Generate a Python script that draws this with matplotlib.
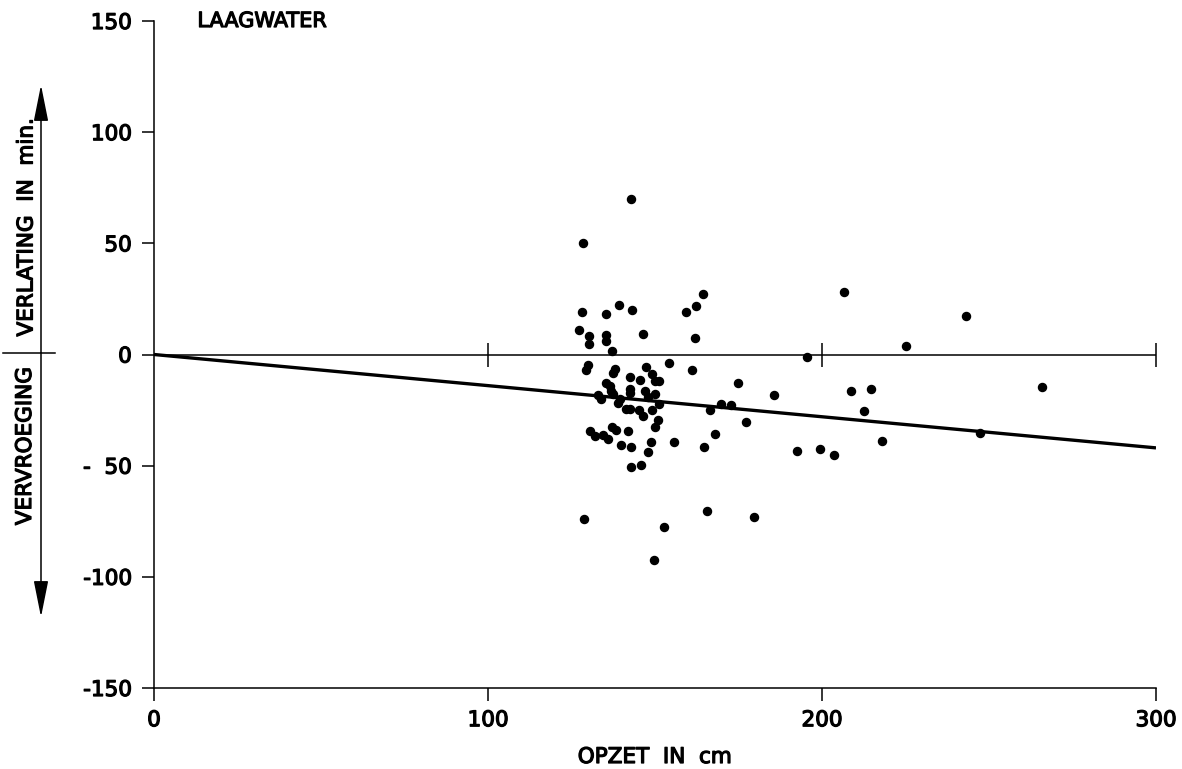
import matplotlib
matplotlib.use("Agg")
import matplotlib.pyplot as plt
import matplotlib.patheffects as pe
from matplotlib.text import Text

plt.rcParams["font.family"] = ["DejaVu Sans"]

# opzet (cm) and verlating/vervroeging (min)
opzet = [142.7, 128.4, 128.2, 135.2, 139.3, 143.1, 127.2, 130.2, 130.3, 135.3, 135.3, 146.3, 137.2, 159.4, 162.4, 164.3, 161.9,
         129.2, 129.9, 137.4, 137.9, 142.4, 147.4, 149.2, 154.1, 161.0, 135.4, 136.4, 145.4, 149.9, 151.3,
         132.9, 133.9, 136.9, 137.4, 139.4, 138.9, 142.4, 142.4, 146.9, 147.9, 149.9, 151.3,
         141.2, 142.4, 145.1, 149.2, 146.3, 150.8, 149.9,
         130.4, 131.9, 134.4, 135.8, 137.2, 138.2, 142.0, 139.9, 142.7, 148.7, 147.8, 155.8, 142.9, 145.9,
         195.6, 174.8, 185.6, 166.6, 169.8, 172.8, 177.3, 168.1, 164.7, 192.5, 199.5,
         206.7, 243.0, 225.2, 208.8, 214.7, 265.9, 212.7, 247.4, 218.1, 203.5,
         128.6, 152.8, 149.6, 165.6, 179.5]
verandering = [70.1, 50.3, 19.2, 18.3, 22.3, 20.1, 11.2, 8.2, 4.5, 8.8, 5.9, 9.2, 1.4, 19.2, 21.9, 27.1, 7.3,
               -6.8, -4.8, -8.2, -6.7, -10.3, -5.8, -8.7, -3.9, -7.0, -12.7, -14.2, -11.5, -11.7, -11.7,
               -18.0, -20.2, -16.4, -17.9, -20.1, -21.6, -15.6, -17.1, -16.3, -19.3, -17.8, -22.3,
               -24.3, -24.3, -24.8, -25.0, -27.8, -29.3, -32.7,
               -34.5, -36.7, -36.0, -38.2, -32.6, -34.1, -34.3, -40.6, -41.5, -39.5, -44.0, -39.4, -50.8, -49.6,
               -1.0, -12.6, -18.4, -25.0, -22.3, -22.7, -30.3, -35.7, -41.6, -43.5, -42.4,
               28.0, 17.2, 4.0, -16.6, -15.6, -14.4, -25.3, -35.2, -39.1, -45.3,
               -74.2, -77.5, -92.5, -70.6, -73.1]

trend_x = [0, 300]
trend_y = [0, -42]

zero_x = [0, 300]
zero_marks = [100, 200, 300]

x_ticks = [0, 100, 200, 300]
x_labels = ["0", "100", "200", "300"]
y_ticks = [150, 100, 50, 0, -50, -100, -150]
y_labels = ["150", "100", "50", "0", "-  50", "-100", "-150"]

W, H = 1182, 769
fig = plt.figure(figsize=(W / 100, H / 100), dpi=100)
ax = fig.add_axes([154 / W, 1 - 688 / H, 1002 / W, 667 / H])

# zero line with cross marks
ax.plot(zero_x, [0, 0], color="black", lw=1.1)
ax.plot(zero_marks, [0] * len(zero_marks), ls="none", marker="|", ms=17, mew=1.1, color="black")

# trend line
ax.plot(trend_x, trend_y, color="black", lw=2.4, solid_capstyle="butt")

# measurements
ax.plot(opzet, verandering, ls="none", marker="o", ms=5.8, color="black", zorder=3)

ax.set_xlim(0, 300)
ax.set_ylim(-150, 150)
for side in ["top", "right"]:
    ax.spines[side].set_visible(False)
for side in ["left", "bottom"]:
    ax.spines[side].set_linewidth(1.1)

ax.set_xticks(x_ticks)
ax.set_xticklabels(x_labels)
ax.set_yticks(y_ticks)
ax.set_yticklabels(y_labels)
ax.tick_params(direction="out", length=9, width=1.1, labelsize=15.5)
ax.tick_params("x", pad=7)
ax.tick_params("y", pad=7)

ax.text(13, 150, "LAAGWATER", fontsize=15, ha="left", va="center")
ax.set_xlabel("OPZET  IN  cm", fontsize=15.5, va="center")
ax.xaxis.set_label_coords(0.5, (688 - 757) / 667)

# left side arrows and labels
ax_x = 41 / W
mid_y = 1 - 352.7 / H
arrow_style = "-|>,head_length=1.5,head_width=0.3"
for end_px in [85, 617]:
    ax.annotate("", xy=(ax_x, 1 - end_px / H), xytext=(ax_x, mid_y), xycoords="figure fraction",
                textcoords="figure fraction",
                arrowprops=dict(arrowstyle=arrow_style, mutation_scale=15, color="black", lw=1.1,
                                shrinkA=0, shrinkB=0))
fig.add_artist(plt.Line2D([3 / W, 55 / W], [mid_y, mid_y], color="black", lw=1.1))

fig.text(26.5 / W, 1 - 227 / H, "VERLATING  IN  min.", fontsize=15.5, rotation=90, ha="center", va="center")
fig.text(25 / W, 1 - 446 / H, "VERVROEGING", fontsize=15.5, rotation=90, ha="center", va="center")

# heavier lettering, like the ink drawing
for t in fig.findobj(Text):
    t.set_path_effects([pe.withStroke(linewidth=0.9, foreground="black")])

fig.savefig("out.png", dpi=100)
